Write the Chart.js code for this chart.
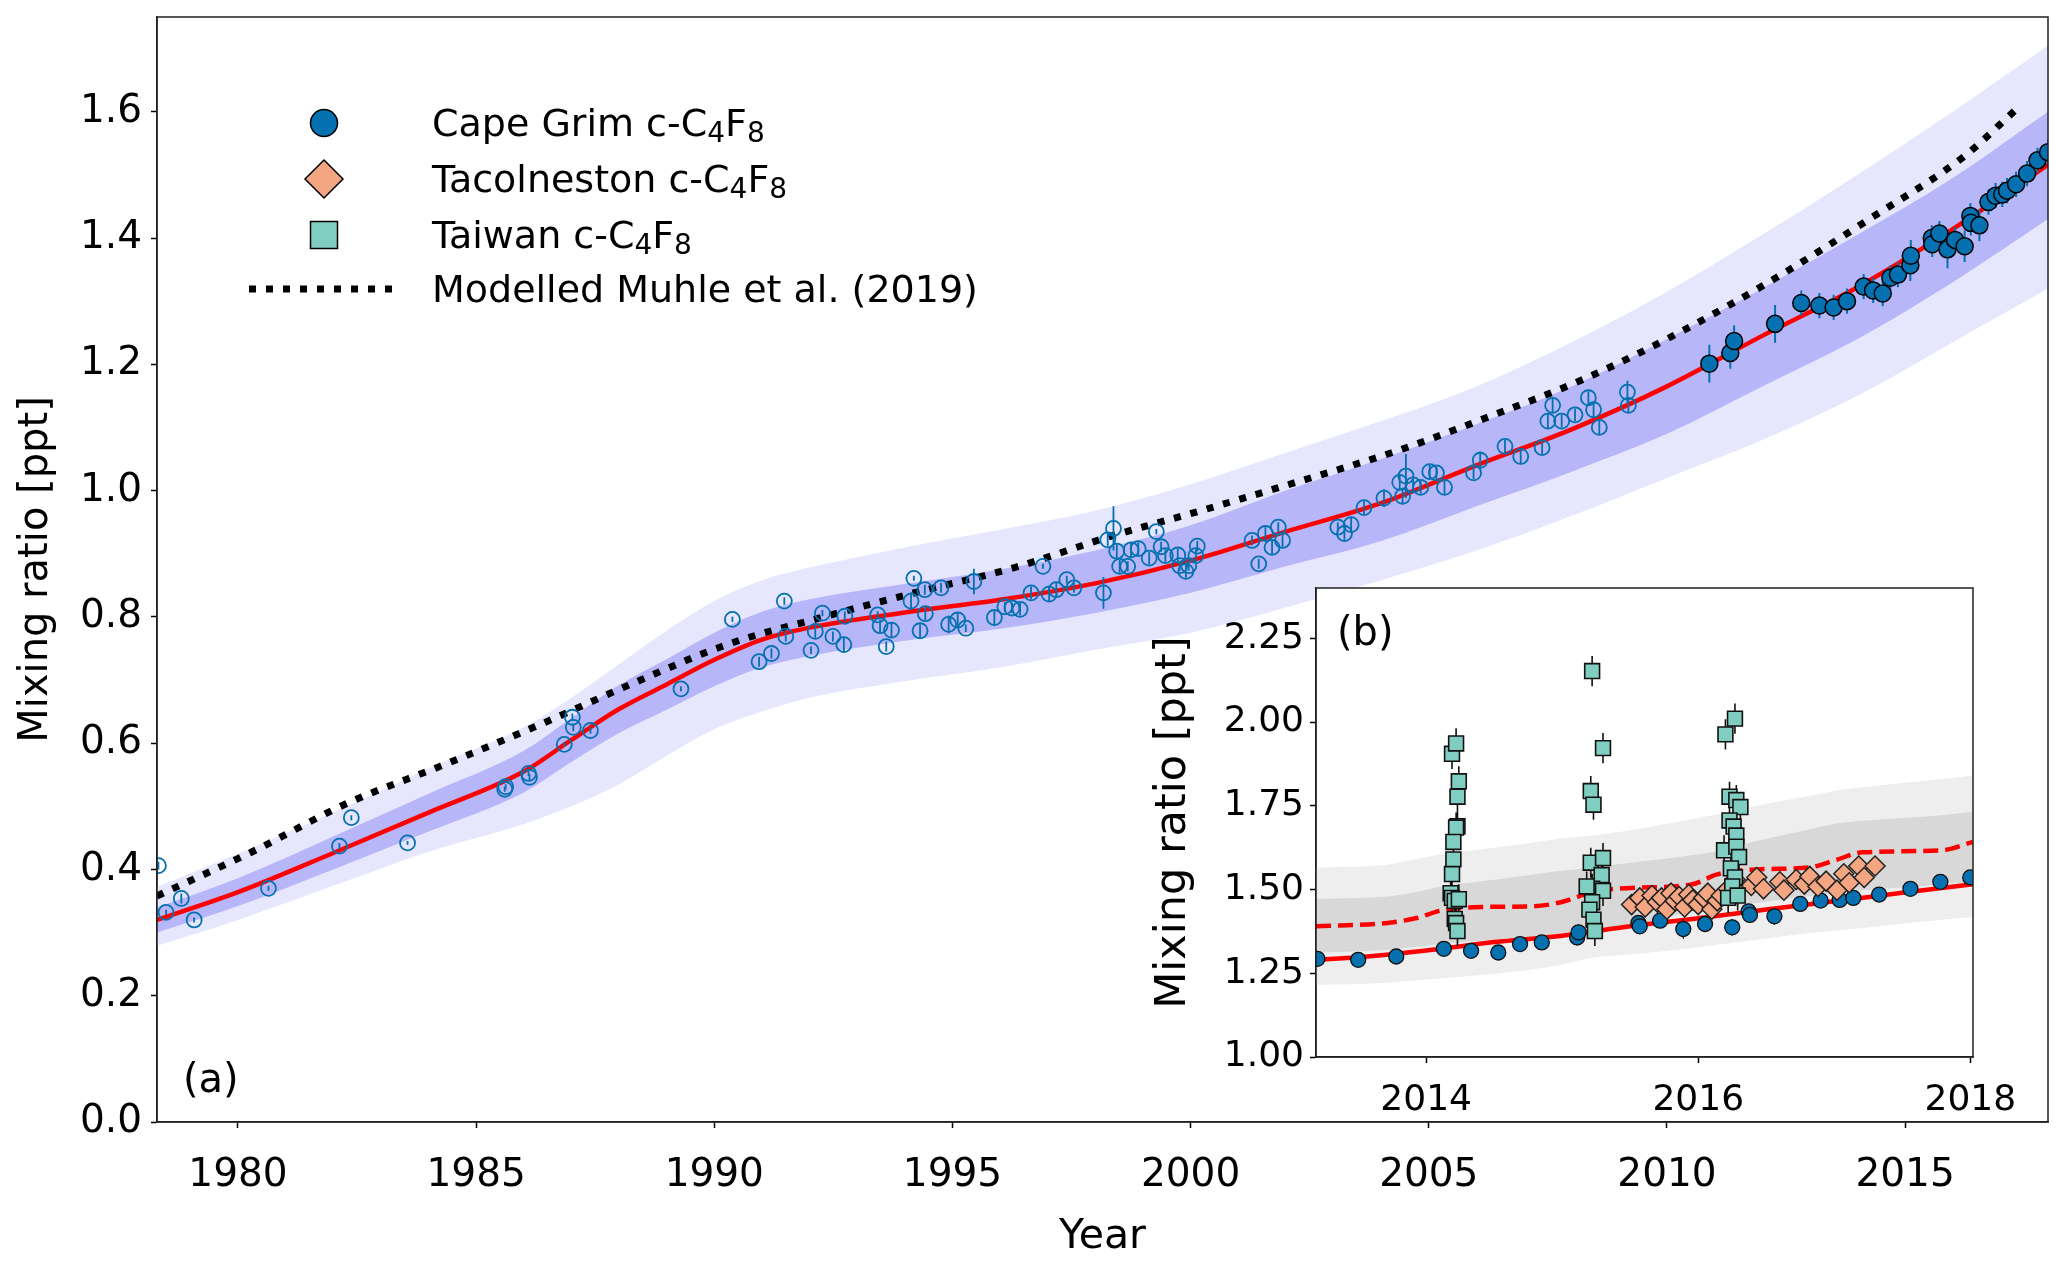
<!DOCTYPE html>
<html>
<head>
<meta charset="utf-8">
<script src="https://cdn.jsdelivr.net/npm/chart.js@4.4.1/dist/chart.umd.min.js"></script>
<style>
  html, body { margin: 0; padding: 0; background: #fff; }
  #wrap { position: relative; width: 2067px; height: 1270px; }
  #main { position: absolute; left: 0; top: 0; }
  #inset { position: absolute; left: 1120px; top: 570px; }
</style>
</head>
<body>
<div id="wrap">
  <canvas id="main" width="2067" height="1270"></canvas>
  <canvas id="inset" width="910" height="548"></canvas>
</div>
<script>
// ---- panel (a): axes
var mainXTicks = [1980, 1985, 1990, 1995, 2000, 2005, 2010, 2015];
var mainYTicks = [0.0, 0.2, 0.4, 0.6, 0.8, 1.0, 1.2, 1.4, 1.6];

// model (red) and its uncertainty bands
var modelYears = [1978.3, 1980, 1982, 1984, 1986, 1987, 1988, 1989, 1990, 1991, 1992, 1994, 1996, 1998, 2000, 2002, 2004, 2006, 2008, 2010, 2012, 2014, 2016, 2018];
var modelVals  = [0.320, 0.364, 0.426, 0.490, 0.555, 0.605, 0.654, 0.693, 0.732, 0.764, 0.783, 0.807, 0.827, 0.853, 0.889, 0.935, 0.980, 1.040, 1.097, 1.165, 1.245, 1.322, 1.414, 1.516];
var innerHi    = [0.340, 0.386, 0.452, 0.520, 0.588, 0.640, 0.692, 0.733, 0.775, 0.808, 0.828, 0.852, 0.875, 0.905, 0.945, 1.000, 1.050, 1.105, 1.165, 1.240, 1.320, 1.405, 1.495, 1.600];
var innerLo    = [0.300, 0.342, 0.400, 0.460, 0.522, 0.570, 0.616, 0.653, 0.690, 0.720, 0.738, 0.762, 0.781, 0.806, 0.838, 0.880, 0.920, 0.975, 1.030, 1.090, 1.165, 1.240, 1.330, 1.430];
var outerHi    = [0.372, 0.425, 0.490, 0.560, 0.625, 0.672, 0.725, 0.778, 0.825, 0.858, 0.878, 0.910, 0.938, 0.968, 1.010, 1.060, 1.110, 1.165, 1.235, 1.315, 1.405, 1.500, 1.600, 1.705];
var outerLo    = [0.279, 0.320, 0.374, 0.428, 0.472, 0.500, 0.535, 0.580, 0.622, 0.650, 0.672, 0.698, 0.720, 0.748, 0.775, 0.815, 0.858, 0.905, 0.960, 1.020, 1.080, 1.150, 1.235, 1.320];

// Muhle et al. (2019) modelled
var muhleYears = [1978.3, 1980.3, 1982.3, 1984.3, 1986.3, 1988.3, 1990.3, 1992.3, 1994.3, 1996.3, 1998.3, 2000.3, 2002.3, 2004.3, 2006.3, 2008.3, 2010.25, 2012.25, 2014.25, 2016.25, 2017.35];
var muhleVals  = [0.358, 0.428, 0.505, 0.565, 0.628, 0.695, 0.757, 0.800, 0.840, 0.878, 0.927, 0.970, 1.015, 1.062, 1.118, 1.178, 1.250, 1.335, 1.430, 1.530, 1.605];

// Cape Grim air archive (open circles)
var archiveYears = [1978.33, 1978.49, 1978.81, 1979.08, 1980.64, 1982.13, 1982.38, 1983.56, 1985.60, 1985.62, 1986.10, 1986.12, 1986.85, 1987.02, 1987.04, 1987.40, 1989.30,
  1990.38, 1990.94, 1991.20, 1991.47, 1991.50, 1992.03, 1992.12, 1992.27, 1992.49, 1992.72, 1992.74, 1993.43, 1993.48, 1993.61, 1993.72, 1994.13, 1994.19, 1994.32, 1994.42, 1994.43,
  1994.76, 1994.92, 1995.11, 1995.28, 1995.45, 1995.88, 1996.10, 1996.25, 1996.42, 1996.65, 1996.90, 1997.03, 1997.18, 1997.40, 1997.55, 1998.17, 1998.26, 1998.38, 1998.45, 1998.51,
  1998.68, 1998.75, 1998.90, 1999.13, 1999.28, 1999.38, 1999.47, 1999.73, 1999.77, 1999.90, 1999.96, 2000.11, 2000.14, 2001.29, 2001.43, 2001.57, 2001.71, 2001.84, 2001.93,
  2003.09, 2003.23, 2003.37, 2003.64, 2004.06, 2004.39, 2004.45, 2004.52, 2004.67, 2004.83, 2005.02, 2005.16, 2005.33, 2005.94, 2006.08, 2006.60, 2006.93, 2007.38, 2007.50, 2007.60, 2007.79,
  2008.07, 2008.35, 2008.46, 2008.58, 2009.17, 2009.19];
var archiveVals = [0.406, 0.332, 0.354, 0.320, 0.370, 0.437, 0.482, 0.442, 0.527, 0.531, 0.552, 0.546, 0.598, 0.641, 0.625, 0.620, 0.686,
  0.796, 0.729, 0.742, 0.825, 0.769, 0.747, 0.777, 0.806, 0.769, 0.756, 0.801, 0.803, 0.786, 0.753, 0.779, 0.825, 0.861, 0.778, 0.843, 0.805,
  0.846, 0.788, 0.795, 0.782, 0.856, 0.799, 0.816, 0.814, 0.812, 0.838, 0.880, 0.836, 0.843, 0.859, 0.846, 0.838, 0.922, 0.940, 0.904, 0.880,
  0.880, 0.906, 0.908, 0.893, 0.935, 0.911, 0.897, 0.898, 0.881, 0.872, 0.881, 0.897, 0.912, 0.921, 0.884, 0.932, 0.910, 0.942, 0.921,
  0.942, 0.932, 0.946, 0.973, 0.988, 1.013, 0.991, 1.023, 1.009, 1.005, 1.030, 1.028, 1.005, 1.028, 1.048, 1.070, 1.054, 1.068, 1.110, 1.135, 1.110,
  1.120, 1.147, 1.128, 1.100, 1.156, 1.135];
var archiveErr = [0.006, 0.004, 0.008, 0.004, 0.004, 0.005, 0.004, 0.003, 0.004, 0.004, 0.004, 0.005, 0.004, 0.006, 0.006, 0.005, 0.004,
  0.004, 0.008, 0.008, 0.006, 0.008, 0.006, 0.010, 0.005, 0.008, 0.012, 0.008, 0.006, 0.010, 0.008, 0.012, 0.014, 0.004, 0.010, 0.008, 0.010,
  0.008, 0.014, 0.012, 0.006, 0.020, 0.012, 0.008, 0.008, 0.010, 0.010, 0.004, 0.012, 0.012, 0.006, 0.008, 0.025, 0.010, 0.035, 0.012, 0.010,
  0.008, 0.012, 0.010, 0.010, 0.004, 0.008, 0.010, 0.010, 0.008, 0.010, 0.008, 0.010, 0.008, 0.008, 0.008, 0.010, 0.012, 0.008, 0.010,
  0.008, 0.010, 0.012, 0.010, 0.014, 0.012, 0.012, 0.035, 0.010, 0.010, 0.012, 0.010, 0.012, 0.010, 0.014, 0.010, 0.012, 0.010, 0.012, 0.012, 0.010,
  0.010, 0.010, 0.012, 0.012, 0.018, 0.012];

// Cape Grim in situ (filled circles), used in both panels
var capeYears = [2010.89, 2011.33, 2011.41, 2012.27, 2012.82, 2013.20, 2013.50, 2013.78, 2014.13, 2014.33, 2014.53, 2014.69, 2014.85, 2015.11, 2015.12, 2015.56,
  2015.57, 2015.72, 2015.89, 2016.05, 2016.25, 2016.37, 2016.38, 2016.56, 2016.75, 2016.90, 2017.04, 2017.14, 2017.33, 2017.56, 2017.78, 2018.00];
var capeVals = [1.201, 1.218, 1.237, 1.264, 1.297, 1.293, 1.290, 1.300, 1.323, 1.317, 1.312, 1.337, 1.342, 1.357, 1.372, 1.400,
  1.390, 1.407, 1.382, 1.397, 1.387, 1.435, 1.424, 1.420, 1.457, 1.467, 1.469, 1.475, 1.485, 1.502, 1.523, 1.536];
var capeErr = [0.030, 0.025, 0.025, 0.030, 0.020, 0.020, 0.020, 0.020, 0.020, 0.020, 0.020, 0.020, 0.020, 0.025, 0.025, 0.020,
  0.020, 0.020, 0.030, 0.020, 0.025, 0.020, 0.020, 0.025, 0.020, 0.020, 0.020, 0.020, 0.020, 0.020, 0.020, 0.020];

// ---- panel (b)
var insetXTicks = [2014, 2016, 2018];
var insetYTicks = [1.00, 1.25, 1.50, 1.75, 2.00, 2.25];

var southYears = [2013.19, 2013.5, 2014.0, 2014.5, 2015.0, 2015.5, 2016.0, 2016.5, 2017.0, 2017.5, 2018.02];
var southVals  = [1.290, 1.298, 1.318, 1.343, 1.362, 1.390, 1.414, 1.440, 1.465, 1.490, 1.516];

var northYears = [2013.19, 2013.73, 2013.92, 2014.12, 2014.41, 2014.79, 2014.99, 2015.23, 2015.47, 2015.95, 2016.14, 2016.43, 2016.82, 2017.01, 2017.21, 2017.79, 2018.02];
var northVals  = [1.390, 1.401, 1.414, 1.438, 1.448, 1.450, 1.462, 1.493, 1.504, 1.515, 1.545, 1.560, 1.566, 1.588, 1.611, 1.617, 1.642];
var northLightHi = [1.566, 1.575, 1.590, 1.606, 1.620, 1.640, 1.652, 1.662, 1.675, 1.710, 1.725, 1.750, 1.780, 1.795, 1.805, 1.830, 1.840];
var northLightLo = [1.215, 1.222, 1.228, 1.235, 1.245, 1.262, 1.275, 1.297, 1.305, 1.325, 1.335, 1.350, 1.370, 1.377, 1.385, 1.410, 1.417];
var northDarkHi  = [1.472, 1.480, 1.492, 1.510, 1.525, 1.545, 1.556, 1.566, 1.578, 1.602, 1.615, 1.645, 1.680, 1.696, 1.705, 1.722, 1.731];
var northDarkLo  = [1.312, 1.320, 1.328, 1.338, 1.348, 1.358, 1.362, 1.370, 1.390, 1.432, 1.445, 1.460, 1.480, 1.490, 1.498, 1.515, 1.525];

var tacYears = [2015.51, 2015.57, 2015.61, 2015.66, 2015.70, 2015.73, 2015.77, 2015.80, 2015.83, 2015.86, 2015.90, 2015.93, 2015.96, 2016.00, 2016.04, 2016.07, 2016.10, 2016.14, 2016.17,
  2016.22, 2016.27, 2016.39, 2016.43, 2016.48, 2016.60, 2016.63, 2016.72, 2016.78, 2016.82, 2016.88, 2016.94, 2017.02, 2017.07, 2017.11, 2017.18, 2017.22, 2017.30];
var tacVals = [1.455, 1.475, 1.448, 1.482, 1.462, 1.475, 1.441, 1.489, 1.466, 1.479, 1.448, 1.485, 1.469, 1.455, 1.475, 1.489, 1.441, 1.466, 1.482,
  1.502, 1.530, 1.512, 1.536, 1.502, 1.523, 1.498, 1.530, 1.516, 1.539, 1.509, 1.525, 1.498, 1.547, 1.520, 1.570, 1.536, 1.570];

var taiwanYears = [2014.19, 2014.22, 2014.24, 2014.23, 2014.23, 2014.22, 2014.20, 2014.20, 2014.19, 2014.18, 2014.19, 2014.21, 2014.24, 2014.21, 2014.22, 2014.23,
  2015.22, 2015.30, 2015.21, 2015.23, 2015.21, 2015.30, 2015.29, 2015.22, 2015.30, 2015.18, 2015.22, 2015.20, 2015.23, 2015.24,
  2016.20, 2016.27, 2016.23, 2016.28, 2016.31, 2016.23, 2016.26, 2016.28, 2016.19, 2016.28, 2016.30, 2016.24, 2016.27, 2016.25, 2016.22, 2016.29];
var taiwanVals = [1.905, 1.936, 1.823, 1.777, 1.689, 1.685, 1.642, 1.590, 1.546, 1.489, 1.475, 1.466, 1.471, 1.412, 1.400, 1.376,
  2.152, 1.922, 1.794, 1.753, 1.580, 1.594, 1.543, 1.502, 1.496, 1.509, 1.462, 1.440, 1.410, 1.376,
  1.963, 2.010, 1.777, 1.767, 1.746, 1.706, 1.688, 1.661, 1.617, 1.628, 1.597, 1.563, 1.536, 1.509, 1.475, 1.482];
var taiwanErr = 0.045;
var tacErr = 0.03;

var legendLabels = ['Cape Grim c-C\u2084F\u2088', 'Tacolneston c-C\u2084F\u2088', 'Taiwan c-C\u2084F\u2088', 'Modelled Muhle et al. (2019)'];

var FONT = '"DejaVu Sans"';
var BLUE = '#0571b0';
var SALMON = '#f4a582';
var TEAL = '#80cdc1';

function pts(xs, ys) {
  return xs.map(function (x, i) { return { x: x, y: ys[i] }; });
}

function band(xs, ys, fill, color) {
  return {
    type: 'line', data: pts(xs, ys), fill: fill, backgroundColor: color,
    borderColor: 'transparent', borderWidth: 0, pointRadius: 0,
    cubicInterpolationMode: 'monotone', clip: 0
  };
}

// vertical error bars, drawn under the markers
var errorBars = {
  id: 'errorBars',
  beforeDatasetDraw: function (chart, args) {
    var ds = chart.data.datasets[args.index];
    if (ds.errors === undefined) return;
    var ctx = chart.ctx, a = chart.chartArea, ys = chart.scales.y;
    ctx.save();
    ctx.beginPath();
    ctx.rect(a.left, a.top, a.right - a.left, a.bottom - a.top);
    ctx.clip();
    ctx.strokeStyle = ds.errorColor;
    ctx.lineWidth = ds.errorWidth;
    ctx.beginPath();
    args.meta.data.forEach(function (p, i) {
      var d = ds.data[i];
      var e = Array.isArray(ds.errors) ? ds.errors[i] : ds.errors;
      ctx.moveTo(p.x, ys.getPixelForValue(d.y + e));
      ctx.lineTo(p.x, ys.getPixelForValue(d.y - e));
    });
    ctx.stroke();
    ctx.restore();
  }
};

var frame = {
  id: 'frame',
  afterDraw: function (chart) {
    var ctx = chart.ctx, a = chart.chartArea;
    ctx.save();
    ctx.strokeStyle = '#222';
    ctx.lineWidth = 1.5;
    ctx.strokeRect(a.left, a.top, a.right - a.left, a.bottom - a.top);
    ctx.restore();
  }
};

function panelLabel(text, x, y) {
  return {
    id: 'panelLabel',
    afterDraw: function (chart) {
      var ctx = chart.ctx;
      ctx.save();
      ctx.font = '40px ' + FONT;
      ctx.fillStyle = '#000';
      ctx.textBaseline = 'alphabetic';
      ctx.fillText(text, x, y);
      ctx.restore();
    }
  };
}

// writes a label, setting unicode subscript digits as smaller lowered digits
function drawLabel(ctx, text, x, baseline) {
  var run = '';
  function flush() {
    if (!run) return;
    ctx.font = '38px ' + FONT;
    ctx.fillText(run, x, baseline);
    x += ctx.measureText(run).width;
    run = '';
  }
  for (var i = 0; i < text.length; i++) {
    var c = text.charCodeAt(i);
    if (c >= 0x2080 && c <= 0x2089) {
      flush();
      var digit = String(c - 0x2080);
      ctx.font = '28px ' + FONT;
      ctx.fillText(digit, x, baseline + 6);
      x += ctx.measureText(digit).width;
    } else {
      run += text[i];
    }
  }
  flush();
}

var legendBox = {
  id: 'legendBox',
  afterDraw: function (chart) {
    var ctx = chart.ctx;
    var mx = 324, tx = 432, rows = [123, 179, 235, 289];
    ctx.save();
    ctx.lineWidth = 1.5;
    ctx.strokeStyle = '#000';
    ctx.fillStyle = BLUE;
    ctx.beginPath(); ctx.arc(mx, rows[0], 13.5, 0, Math.PI * 2); ctx.fill(); ctx.stroke();
    ctx.fillStyle = SALMON;
    ctx.beginPath();
    ctx.moveTo(mx, rows[1] - 19); ctx.lineTo(mx + 19, rows[1]); ctx.lineTo(mx, rows[1] + 19); ctx.lineTo(mx - 19, rows[1]);
    ctx.closePath(); ctx.fill(); ctx.stroke();
    ctx.fillStyle = TEAL;
    ctx.fillRect(mx - 13.5, rows[2] - 13.5, 27, 27);
    ctx.strokeRect(mx - 13.5, rows[2] - 13.5, 27, 27);
    ctx.lineWidth = 7;
    ctx.setLineDash([7, 10]);
    ctx.lineCap = 'butt';
    ctx.beginPath(); ctx.moveTo(249, rows[3]); ctx.lineTo(400, rows[3]); ctx.stroke();
    ctx.setLineDash([]);
    ctx.fillStyle = '#000';
    ctx.textBaseline = 'alphabetic';
    legendLabels.forEach(function (t, i) { drawLabel(ctx, t, tx, rows[i] + 13); });
    ctx.restore();
  }
};

var insetBackground = {
  id: 'insetBackground',
  beforeDraw: function (chart) {
    var ctx = chart.ctx, a = chart.chartArea;
    ctx.save();
    ctx.fillStyle = '#fff';
    ctx.fillRect(a.left, a.top, a.right - a.left, a.bottom - a.top);
    ctx.restore();
  }
};

function tickGrid() {
  return { drawOnChartArea: false, drawTicks: true, tickLength: 6, tickColor: '#000', tickWidth: 1.5 };
}

new Chart(document.getElementById('main'), {
  type: 'scatter',
  data: {
    datasets: [
      {
        label: 'Cape Grim c-C4F8 in situ', data: pts(capeYears, capeVals),
        pointStyle: 'circle', pointRadius: 8.5, pointBackgroundColor: BLUE, pointBorderColor: '#000', pointBorderWidth: 1.5,
        errors: capeErr, errorColor: BLUE, errorWidth: 2, clip: 0
      },
      {
        label: 'Cape Grim c-C4F8 archive', data: pts(archiveYears, archiveVals),
        pointStyle: 'circle', pointRadius: 7.5, pointBackgroundColor: 'rgba(0,0,0,0)', pointBorderColor: BLUE, pointBorderWidth: 1.8,
        errors: archiveErr, errorColor: BLUE, errorWidth: 1.8, clip: 0
      },
      {
        type: 'line', label: 'model', data: pts(modelYears, modelVals), fill: false,
        borderColor: '#ff0000', borderWidth: 4.5, pointRadius: 0, cubicInterpolationMode: 'monotone', clip: 0
      },
      {
        type: 'line', label: 'Modelled Muhle et al. (2019)', data: pts(muhleYears, muhleVals), fill: false,
        borderColor: '#000', borderWidth: 7, borderDash: [7, 10], borderCapStyle: 'butt', pointRadius: 0,
        cubicInterpolationMode: 'monotone', clip: 0
      },
      band(modelYears, innerHi, '+1', 'rgb(182,182,249)'),
      band(modelYears, innerLo, false, 'rgba(0,0,0,0)'),
      band(modelYears, outerHi, '+1', 'rgb(230,230,253)'),
      band(modelYears, outerLo, false, 'rgba(0,0,0,0)')
    ]
  },
  options: {
    responsive: false,
    animation: false,
    devicePixelRatio: 1,
    layout: { padding: { top: 17, right: 19, left: 0, bottom: 0 } },
    scales: {
      x: {
        type: 'linear', min: 1978.3, max: 2018.0,
        afterBuildTicks: function (s) { s.ticks = mainXTicks.map(function (v) { return { value: v }; }); },
        afterFit: function (s) { s.height = 148; s.paddingLeft = 0; s.paddingRight = 0; },
        ticks: { font: { family: 'DejaVu Sans', size: 39 }, color: '#000', padding: 24, maxRotation: 0, autoSkip: false,
          callback: function (v) { return String(v); } },
        grid: tickGrid(),
        border: { display: true, color: '#222', width: 1.5 },
        title: { display: true, text: 'Year', color: '#000', font: { family: 'DejaVu Sans', size: 41 }, padding: { top: 0, bottom: 8 } }
      },
      y: {
        type: 'linear', min: 0, max: 1.75,
        afterBuildTicks: function (s) { s.ticks = mainYTicks.map(function (v) { return { value: v }; }); },
        afterFit: function (s) { s.width = 157; s.paddingTop = 0; s.paddingBottom = 0; },
        ticks: { font: { family: 'DejaVu Sans', size: 39 }, color: '#000', padding: 9,
          callback: function (v) { return v.toFixed(1); } },
        grid: tickGrid(),
        border: { display: true, color: '#222', width: 1.5 },
        title: { display: true, text: 'Mixing ratio [ppt]', color: '#000', font: { family: 'DejaVu Sans', size: 40 }, padding: { top: 13, bottom: 0 } }
      }
    },
    plugins: {
      legend: { display: false },
      tooltip: { enabled: false },
      filler: { propagate: false, drawTime: 'beforeDatasetsDraw' }
    }
  },
  plugins: [errorBars, frame, legendBox, panelLabel('(a)', 183, 1092)]
});

new Chart(document.getElementById('inset'), {
  type: 'scatter',
  data: {
    datasets: [
      {
        label: 'Taiwan c-C4F8', data: pts(taiwanYears, taiwanVals),
        pointStyle: 'rect', pointRadius: 10.5, pointBackgroundColor: TEAL, pointBorderColor: '#111', pointBorderWidth: 1.6,
        errors: taiwanErr, errorColor: '#111', errorWidth: 1.6, clip: 0
      },
      {
        label: 'Tacolneston c-C4F8', data: pts(tacYears, tacVals),
        pointStyle: 'rectRot', pointRadius: 10, pointBackgroundColor: SALMON, pointBorderColor: '#222', pointBorderWidth: 1.5,
        errors: tacErr, errorColor: '#222', errorWidth: 1.4, clip: 0
      },
      {
        label: 'Cape Grim c-C4F8', data: pts(capeYears, capeVals),
        pointStyle: 'circle', pointRadius: 7.5, pointBackgroundColor: BLUE, pointBorderColor: '#111', pointBorderWidth: 1.3,
        errors: capeErr, errorColor: '#222', errorWidth: 1.2, clip: 0
      },
      {
        type: 'line', label: 'south', data: pts(southYears, southVals), fill: false,
        borderColor: '#ff0000', borderWidth: 4.5, pointRadius: 0, cubicInterpolationMode: 'monotone', clip: 0
      },
      {
        type: 'line', label: 'north', data: pts(northYears, northVals), fill: false,
        borderColor: '#ff0000', borderWidth: 4.5, borderDash: [15, 7], pointRadius: 0, cubicInterpolationMode: 'monotone', clip: 0
      },
      band(northYears, northDarkHi, '+1', 'rgb(216,216,216)'),
      band(northYears, northDarkLo, false, 'rgba(0,0,0,0)'),
      band(northYears, northLightHi, '+1', 'rgb(238,238,238)'),
      band(northYears, northLightLo, false, 'rgba(0,0,0,0)')
    ]
  },
  options: {
    responsive: false,
    animation: false,
    devicePixelRatio: 1,
    layout: { padding: { top: 18, right: 57, left: 0, bottom: 0 } },
    scales: {
      x: {
        type: 'linear', min: 2013.19, max: 2018.02,
        afterBuildTicks: function (s) { s.ticks = insetXTicks.map(function (v) { return { value: v }; }); },
        afterFit: function (s) { s.height = 61; s.paddingLeft = 0; s.paddingRight = 0; },
        ticks: { font: { family: 'DejaVu Sans', size: 36 }, color: '#000', padding: 16, maxRotation: 0, autoSkip: false,
          callback: function (v) { return String(v); } },
        grid: tickGrid(),
        border: { display: true, color: '#222', width: 1.5 }
      },
      y: {
        type: 'linear', min: 1.0, max: 2.4,
        afterBuildTicks: function (s) { s.ticks = insetYTicks.map(function (v) { return { value: v }; }); },
        afterFit: function (s) { s.width = 196; s.paddingTop = 0; s.paddingBottom = 0; },
        ticks: { font: { family: 'DejaVu Sans', size: 36 }, color: '#000', padding: 6,
          callback: function (v) { return v.toFixed(2); } },
        grid: tickGrid(),
        border: { display: true, color: '#222', width: 1.5 },
        title: { display: true, text: 'Mixing ratio [ppt]', color: '#000', font: { family: 'DejaVu Sans', size: 43 }, padding: { top: 28, bottom: 0 } }
      }
    },
    plugins: {
      legend: { display: false },
      tooltip: { enabled: false },
      filler: { propagate: false, drawTime: 'beforeDatasetsDraw' }
    }
  },
  plugins: [insetBackground, errorBars, frame, panelLabel('(b)', 217, 75)]
});
</script>
</body>
</html>
